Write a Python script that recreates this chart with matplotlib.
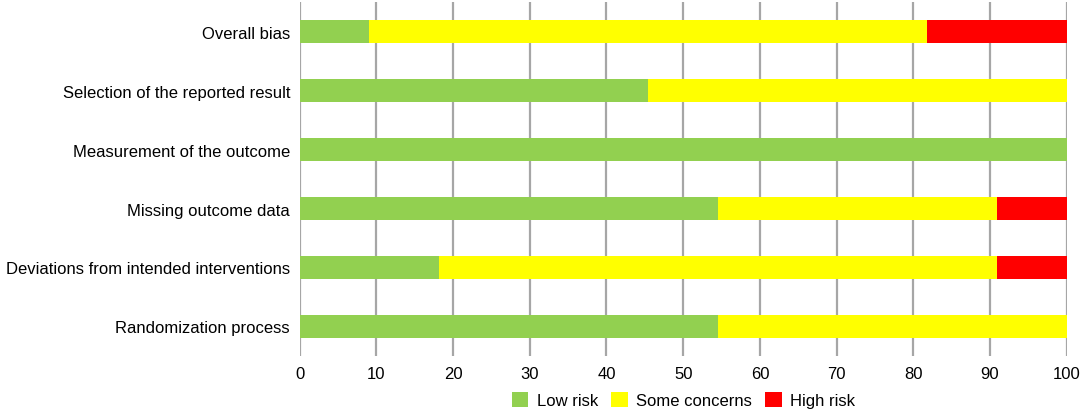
import matplotlib.pyplot as plt
import numpy as np

plt.rcParams['font.family'] = ['Liberation Sans', 'DejaVu Sans']
plt.rcParams['text.color'] = '#000000'

# Domains listed bottom to top
domains = ['Randomization process', 'Deviations from intended interventions',
           'Missing outcome data', 'Measurement of the outcome',
           'Selection of the reported result', 'Overall bias']
low_risk = [54.55, 18.18, 54.55, 100.0, 45.45, 9.09]
some_concerns = [45.45, 72.73, 36.36, 0.0, 54.55, 72.73]
high_risk = [0.0, 9.09, 9.09, 0.0, 0.0, 18.18]

labels = ['Low risk', 'Some concerns', 'High risk']
colors = ['#92D050', '#FFFF00', '#FF0000']

fig = plt.figure(figsize=(10.84, 4.14), dpi=100)
ax = fig.add_axes([0.2765, 0.1377, 0.7075, 0.855])

y = np.arange(len(domains))
low = np.array(low_risk)
some = np.array(some_concerns)
high = np.array(high_risk)

ax.barh(y, low, height=0.4, color=colors[0], label=labels[0], zorder=3)
ax.barh(y, some, left=low, height=0.4, color=colors[1], label=labels[1], zorder=3)
ax.barh(y, high, left=low + some, height=0.4, color=colors[2], label=labels[2], zorder=3)

ax.set_xlim(0, 100)
ax.set_ylim(-0.5, 5.5)
ax.set_xticks(np.arange(0, 101, 10))
ax.set_yticks(y)
ax.set_yticklabels(domains)
ax.grid(axis='x', color='#A6A6A6', linewidth=1.6, zorder=0)
ax.set_axisbelow(True)

for spine in ax.spines.values():
    spine.set_visible(False)
ax.tick_params(axis='both', length=0, labelsize=12)
ax.tick_params(axis='y', pad=7)
ax.tick_params(axis='x', pad=7)

fig.legend(loc='center', bbox_to_anchor=(0.6305, 0.031), ncol=3, frameon=False,
           fontsize=12, handlelength=1.0, handleheight=1.0, handletextpad=0.5,
           columnspacing=0.8)

plt.savefig('out.png', dpi=100)
